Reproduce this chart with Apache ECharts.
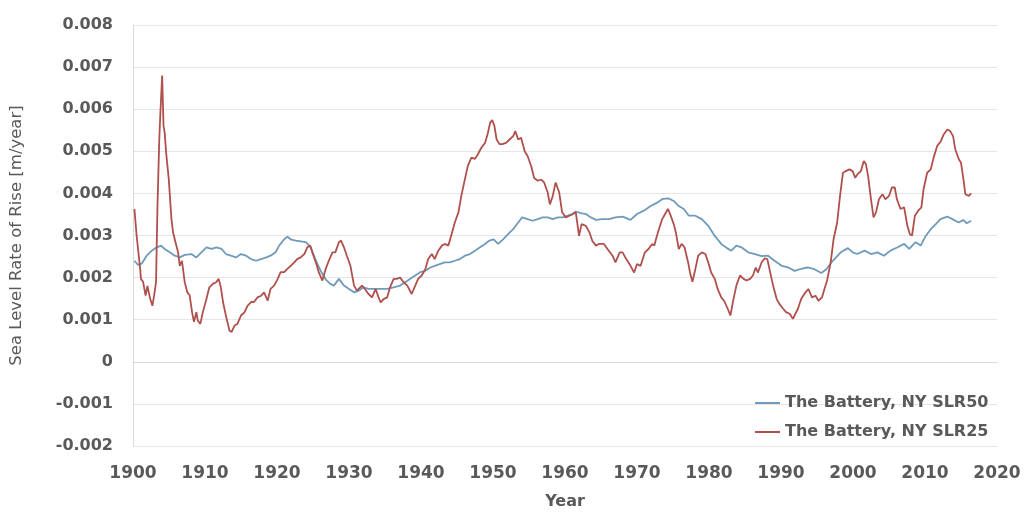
<!DOCTYPE html>
<html>
<head>
<meta charset="utf-8">
<script src="https://cdn.jsdelivr.net/npm/echarts@6/dist/echarts.min.js"></script>
<style>
  html, body { margin: 0; padding: 0; background: #ffffff; }
  #chart { width: 1025px; height: 515px; }
</style>
</head>
<body>
<div id="chart"></div>
<script>
// Sea level rate of rise at The Battery, NY (m/year)

// 50-year window estimate
const slr50Years = [
  1900.2, 1900.7, 1901.2, 1901.9, 1902.6, 1903.3, 1903.9, 1904.4, 1905.1, 1905.8,
  1906.5, 1907.2, 1908.1, 1908.8, 1909.5, 1910.2, 1910.9, 1911.6, 1912.3, 1912.9,
  1913.6, 1914.3, 1915.0, 1915.7, 1916.4, 1917.1, 1917.8, 1918.5, 1919.1, 1919.8,
  1920.3, 1921.0, 1921.45, 1921.9, 1922.6, 1923.3, 1924.0, 1924.7, 1925.4, 1926.1,
  1926.8, 1927.4, 1927.9, 1928.6, 1929.3, 1930.0, 1930.7, 1931.35, 1932.0, 1932.7,
  1933.4, 1934.35, 1935.3, 1936.2, 1937.1, 1937.8, 1938.5, 1939.2, 1939.9, 1940.6,
  1941.3, 1941.9, 1942.6, 1943.3, 1944.0, 1944.7, 1945.4, 1946.1, 1946.8, 1947.5,
  1948.2, 1948.9, 1949.5, 1950.1, 1950.7, 1951.4, 1952.1, 1952.8, 1953.5, 1954.05,
  1954.8, 1955.5, 1956.2, 1956.9, 1957.6, 1958.3, 1959.0, 1959.7, 1960.4, 1961.0,
  1961.5, 1962.2, 1962.9, 1963.6, 1964.3, 1965.2, 1966.1, 1967.0, 1968.0, 1969.1,
  1970.0, 1970.95, 1971.9, 1972.8, 1973.6, 1974.4, 1975.1, 1975.8, 1976.5, 1977.2,
  1978.1, 1979.0, 1979.9, 1980.8, 1981.7, 1982.5, 1983.1, 1983.8, 1984.5, 1985.45,
  1986.4, 1987.3, 1988.2, 1989.1, 1990.1, 1991.0, 1991.9, 1992.8, 1993.7, 1994.65,
  1995.6, 1996.3, 1997.0, 1997.65, 1998.3, 1999.3, 1999.95, 2000.6, 2001.6, 2002.5,
  2003.4, 2004.3, 2005.2, 2006.2, 2007.1, 2007.8, 2008.7, 2009.4, 2010.1, 2010.8,
  2011.5, 2012.15, 2013.1, 2014.0, 2014.7, 2015.3, 2015.8, 2016.4
];
const slr50Values = [
  0.00240, 0.00230, 0.00233, 0.00252, 0.00264, 0.00272, 0.00276, 0.00268, 0.00260, 0.00252,
  0.00248, 0.00254, 0.00256, 0.00248, 0.00260, 0.00272, 0.00268, 0.00272, 0.00268, 0.00256,
  0.00252, 0.00248, 0.00256, 0.00252, 0.00244, 0.00240, 0.00244, 0.00248, 0.00252, 0.00260,
  0.00276, 0.00291, 0.00297, 0.00291, 0.00288, 0.00286, 0.00284, 0.00272, 0.00240, 0.00215,
  0.00195, 0.00185, 0.00181, 0.00197, 0.00181, 0.00173, 0.00165, 0.00169, 0.00177, 0.00173,
  0.00173, 0.00173, 0.00173, 0.00177, 0.00181, 0.00189, 0.00197, 0.00205, 0.00213, 0.00216,
  0.00224, 0.00228, 0.00232, 0.00236, 0.00236, 0.00240, 0.00244, 0.00252, 0.00256, 0.00264,
  0.00272, 0.00280, 0.00288, 0.00291, 0.00280, 0.00291, 0.00303, 0.00315, 0.00331, 0.00343,
  0.00339, 0.00335, 0.00339, 0.00343, 0.00343, 0.00339, 0.00343, 0.00343, 0.00347, 0.00351,
  0.00357, 0.00353, 0.00351, 0.00343, 0.00337, 0.00339, 0.00339, 0.00343, 0.00345, 0.00337,
  0.00351, 0.00359, 0.00370, 0.00378, 0.00387, 0.00388, 0.00382, 0.00370, 0.00363, 0.00347,
  0.00347, 0.00339, 0.00323, 0.00299, 0.00280, 0.00270, 0.00264, 0.00276, 0.00272, 0.00260,
  0.00256, 0.00251, 0.00252, 0.00240, 0.00228, 0.00224, 0.00216, 0.00221, 0.00224, 0.00220,
  0.00211, 0.00220, 0.00236, 0.00248, 0.00260, 0.00270, 0.00260, 0.00256, 0.00264, 0.00256,
  0.00260, 0.00252, 0.00264, 0.00272, 0.00280, 0.00268, 0.00284, 0.00276, 0.00299, 0.00315,
  0.00327, 0.00339, 0.00345, 0.00337, 0.00331, 0.00337, 0.00329, 0.00335
];

// 25-year window estimate
const slr25Years = [
  1900.2, 1900.5, 1901.0, 1901.1, 1901.4, 1901.75, 1902.0, 1902.4, 1902.7, 1903.0,
  1903.2, 1903.4, 1903.65, 1903.8, 1904.05, 1904.24, 1904.4, 1904.6, 1904.97, 1905.34,
  1905.57, 1905.9, 1906.26, 1906.5, 1906.8, 1907.18, 1907.55, 1907.87, 1908.2, 1908.47,
  1908.8, 1909.0, 1909.35, 1909.7, 1910.2, 1910.6, 1911.1, 1911.55, 1911.9, 1912.2,
  1912.5, 1912.9, 1913.4, 1913.7, 1914.1, 1914.5, 1915.0, 1915.5, 1915.9, 1916.4,
  1916.8, 1917.3, 1917.8, 1918.2, 1918.7, 1919.1, 1919.6, 1920.1, 1920.5, 1921.0,
  1921.4, 1921.9, 1922.4, 1922.8, 1923.3, 1923.8, 1924.2, 1924.6, 1924.9, 1925.4,
  1925.8, 1926.3, 1926.75, 1927.2, 1927.7, 1928.1, 1928.6, 1928.9, 1929.3, 1929.7,
  1930.2, 1930.7, 1931.1, 1931.8, 1932.2, 1932.7, 1933.2, 1933.7, 1934.1, 1934.4,
  1934.8, 1935.3, 1935.7, 1936.2, 1936.6, 1937.1, 1937.6, 1938.1, 1938.7, 1939.2,
  1939.6, 1940.1, 1940.6, 1941.0, 1941.5, 1941.9, 1942.4, 1942.9, 1943.3, 1943.8,
  1944.2, 1944.7, 1945.2, 1945.6, 1946.1, 1946.5, 1947.0, 1947.5, 1947.9, 1948.4,
  1948.9, 1949.3, 1949.6, 1949.9, 1950.2, 1950.5, 1950.9, 1951.3, 1951.8, 1952.3,
  1952.8, 1953.1, 1953.5, 1953.9, 1954.4, 1954.8, 1955.3, 1955.7, 1956.2, 1956.7,
  1957.1, 1957.6, 1957.9, 1958.3, 1958.7, 1959.2, 1959.6, 1960.1, 1960.6, 1961.0,
  1961.5, 1961.95, 1962.3, 1962.9, 1963.4, 1963.8, 1964.3, 1964.7, 1965.4, 1965.9,
  1966.6, 1967.0, 1967.6, 1968.0, 1968.5, 1969.1, 1969.6, 1970.0, 1970.5, 1971.1,
  1971.6, 1972.1, 1972.4, 1972.9, 1973.5, 1973.9, 1974.3, 1974.6, 1975.1, 1975.4,
  1975.8, 1976.2, 1976.6, 1977.1, 1977.4, 1977.7, 1978.1, 1978.5, 1979.0, 1979.5,
  1979.9, 1980.3, 1980.8, 1981.2, 1981.7, 1982.1, 1982.6, 1982.97, 1983.4, 1983.8,
  1984.3, 1984.8, 1985.2, 1985.7, 1986.1, 1986.5, 1986.8, 1987.3, 1987.75, 1988.1,
  1988.4, 1988.9, 1989.4, 1989.8, 1990.3, 1990.7, 1991.2, 1991.65, 1991.9, 1992.35,
  1992.8, 1993.4, 1993.8, 1994.3, 1994.8, 1995.2, 1995.7, 1995.9, 1996.4, 1996.9,
  1997.3, 1997.8, 1998.2, 1998.6, 1999.0, 1999.5, 1999.95, 2000.3, 2000.6, 2001.1,
  2001.5, 2001.8, 2002.1, 2002.5, 2002.85, 2003.2, 2003.6, 2004.1, 2004.5, 2005.0,
  2005.4, 2005.8, 2006.1, 2006.6, 2007.1, 2007.55, 2007.9, 2008.2, 2008.6, 2009.05,
  2009.5, 2009.8, 2010.3, 2010.8, 2011.2, 2011.7, 2012.2, 2012.6, 2013.1, 2013.5,
  2013.9, 2014.2, 2014.7, 2015.0, 2015.4, 2015.6, 2016.1, 2016.4
];
const slr25Values = [
  0.00363, 0.00300, 0.00220, 0.00197, 0.00190, 0.00157, 0.00180, 0.00149, 0.00133, 0.00165,
  0.00189, 0.00370, 0.00528, 0.00590, 0.00680, 0.00560, 0.00545, 0.00497, 0.00434, 0.00339,
  0.00307, 0.00284, 0.00260, 0.00228, 0.00240, 0.00189, 0.00165, 0.00158, 0.00118, 0.00095,
  0.00118, 0.00098, 0.00090, 0.00118, 0.00149, 0.00177, 0.00185, 0.00189, 0.00197, 0.00177,
  0.00142, 0.00110, 0.00074, 0.00071, 0.00086, 0.00090, 0.00110, 0.00118, 0.00133, 0.00142,
  0.00142, 0.00153, 0.00157, 0.00165, 0.00145, 0.00173, 0.00181, 0.00197, 0.00213, 0.00213,
  0.00220, 0.00228, 0.00236, 0.00244, 0.00248, 0.00256, 0.00272, 0.00276, 0.00260, 0.00236,
  0.00213, 0.00193, 0.00220, 0.00240, 0.00260, 0.00260, 0.00284, 0.00288, 0.00272, 0.00252,
  0.00228, 0.00181, 0.00169, 0.00181, 0.00173, 0.00161, 0.00153, 0.00173, 0.00153, 0.00141,
  0.00149, 0.00153, 0.00177, 0.00197, 0.00197, 0.00200, 0.00189, 0.00181, 0.00161, 0.00181,
  0.00197, 0.00205, 0.00220, 0.00244, 0.00256, 0.00244, 0.00264, 0.00276, 0.00280, 0.00276,
  0.00300, 0.00331, 0.00355, 0.00394, 0.00434, 0.00465, 0.00485, 0.00482, 0.00493, 0.00509,
  0.00520, 0.00544, 0.00568, 0.00574, 0.00560, 0.00528, 0.00517, 0.00517, 0.00520, 0.00528,
  0.00536, 0.00548, 0.00528, 0.00532, 0.00500, 0.00489, 0.00465, 0.00437, 0.00430, 0.00433,
  0.00426, 0.00402, 0.00374, 0.00394, 0.00426, 0.00402, 0.00355, 0.00343, 0.00347, 0.00350,
  0.00355, 0.00299, 0.00327, 0.00323, 0.00307, 0.00287, 0.00276, 0.00280, 0.00280, 0.00268,
  0.00252, 0.00236, 0.00260, 0.00260, 0.00244, 0.00228, 0.00212, 0.00232, 0.00228, 0.00260,
  0.00268, 0.00280, 0.00276, 0.00307, 0.00339, 0.00351, 0.00363, 0.00351, 0.00327, 0.00307,
  0.00268, 0.00280, 0.00272, 0.00236, 0.00209, 0.00190, 0.00220, 0.00252, 0.00260, 0.00256,
  0.00236, 0.00212, 0.00197, 0.00173, 0.00153, 0.00145, 0.00126, 0.00110, 0.00149, 0.00181,
  0.00205, 0.00197, 0.00193, 0.00197, 0.00205, 0.00224, 0.00212, 0.00236, 0.00246, 0.00244,
  0.00220, 0.00181, 0.00149, 0.00137, 0.00126, 0.00118, 0.00114, 0.00102, 0.00098, 0.00126,
  0.00149, 0.00165, 0.00173, 0.00153, 0.00157, 0.00145, 0.00153, 0.00165, 0.00193, 0.00236,
  0.00291, 0.00331, 0.00394, 0.00449, 0.00453, 0.00457, 0.00453, 0.00437, 0.00445, 0.00453,
  0.00477, 0.00469, 0.00441, 0.00386, 0.00343, 0.00355, 0.00386, 0.00398, 0.00386, 0.00394,
  0.00414, 0.00414, 0.00386, 0.00363, 0.00367, 0.00323, 0.00303, 0.00300, 0.00347, 0.00359,
  0.00367, 0.00410, 0.00449, 0.00457, 0.00485, 0.00513, 0.00524, 0.00540, 0.00552, 0.00548,
  0.00536, 0.00505, 0.00481, 0.00473, 0.00426, 0.00398, 0.00394, 0.00400
];

const yTicks = { min: -0.002, max: 0.008, step: 0.001 };
const xTicks = { min: 1900, max: 2020, step: 10 };

const seriesNames = ['The Battery, NY SLR50', 'The Battery, NY SLR25'];
const seriesColors = ['#6f9aba', '#b0504c'];

const toPairs = (xs, ys) => xs.map((x, i) => [x, ys[i]]);

const chart = echarts.init(document.getElementById('chart'), null, { renderer: 'canvas' });

const labelFont = {
  fontFamily: 'DejaVu Sans',
  fontWeight: 'bold',
  fontSize: 17,
  color: '#595959'
};

chart.setOption({
  animation: false,
  backgroundColor: '#ffffff',
  grid: { left: 128, right: 28, top: 25, bottom: 67, containLabel: false },
  xAxis: {
    type: 'value',
    min: xTicks.min,
    max: xTicks.max,
    interval: xTicks.step,
    name: 'Year',
    nameLocation: 'middle',
    nameGap: 48,
    nameTextStyle: Object.assign({}, labelFont, { fontSize: 16 }),
    axisLine: { show: true, lineStyle: { color: '#d9d9d9', width: 1 } },
    axisTick: { show: false },
    splitLine: { show: false },
    axisLabel: Object.assign({}, labelFont, { margin: 19, formatter: v => String(v) })
  },
  yAxis: {
    type: 'value',
    min: yTicks.min,
    max: yTicks.max,
    interval: yTicks.step,
    name: 'Sea Level Rate of Rise [m/year]',
    nameLocation: 'middle',
    nameGap: 108,
    nameRotate: 90,
    nameTextStyle: { fontFamily: 'DejaVu Sans', fontSize: 16.5, color: '#595959' },
    axisLine: { show: true, lineStyle: { color: '#d9d9d9', width: 1 } },
    axisTick: { show: false },
    splitLine: { show: true, lineStyle: { color: '#e6e6e6', width: 1 } },
    axisLabel: Object.assign({}, labelFont, {
      fontSize: 16,
      margin: 20,
      formatter: v => (Math.abs(v) < 1e-9 ? '0' : v.toFixed(3))
    })
  },
  legend: {
    orient: 'vertical',
    left: 750,
    top: 390,
    icon: 'rect',
    itemWidth: 25,
    itemHeight: 2,
    itemGap: 13,
    textStyle: Object.assign({}, labelFont, { fontSize: 16 }),
    data: seriesNames
  },
  series: [
    {
      name: seriesNames[0],
      type: 'line',
      data: toPairs(slr50Years, slr50Values),
      symbol: 'none',
      smooth: false,
      lineStyle: { color: seriesColors[0], width: 1.8 },
      itemStyle: { color: seriesColors[0] }
    },
    {
      name: seriesNames[1],
      type: 'line',
      data: toPairs(slr25Years, slr25Values),
      symbol: 'none',
      smooth: false,
      lineStyle: { color: seriesColors[1], width: 1.8 },
      itemStyle: { color: seriesColors[1] }
    }
  ]
});
</script>
</body>
</html>
